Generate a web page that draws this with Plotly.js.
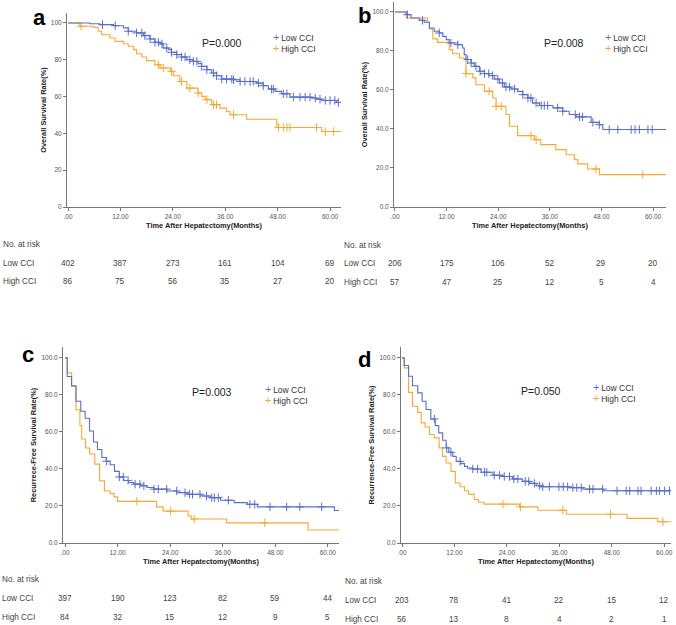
<!DOCTYPE html>
<html>
<head>
<meta charset="utf-8">
<script src="https://cdn.plot.ly/plotly-3.0.1.min.js"></script>
<style>html,body{margin:0;padding:0;background:#fff;}#chart{width:676px;height:625px;}</style>
</head>
<body>
<div id="chart"></div>
<script>
// ---------- shared labels ----------
const groupNames = ['Low CCI', 'High CCI'];
const pValues = ['P=0.000', 'P=0.008', 'P=0.003', 'P=0.050'];
const panelLetters = ['a', 'b', 'c', 'd'];
const yTitles = ['Overall Survival Rate(%)', 'Overall Survival Rate(%)', 'Recurrece-Free Survival Rate(%)', 'Recurrence-Free Survival Rate(%)'];
const xTitle = 'Time After Hepatectomy(Months)';
const riskTitle = 'No. at risk';
const tickMonths = [0, 12, 24, 36, 48, 60];
const xTickText = ['.00', '12.00', '24.00', '36.00', '48.00', '60.00'];
const yTickVals = [0, 20, 40, 60, 80, 100];
const yTickTextA = ['0', '20', '40', '60', '80', '100'];
const yTickTextOther = ['0.0', '20.0', '40.0', '60.0', '80.0', '100.0'];

// ---------- panel a : OS, cohort 1 ----------
const aLowT = [0, 5.0, 7.3, 10.4, 12.7, 13.8, 15.7, 17.3, 18.8, 19.9, 21.1, 21.8, 23.0, 23.7, 24.9, 26.0, 27.2, 28.7, 29.8, 30.6, 31.8, 32.9, 34.0, 35.2, 37.9, 39.4, 43.2, 44.7, 45.9, 47.4, 48.9, 50.8, 55.8, 56.9, 58.1, 61.5, 62.5];
const aLowS = [100, 99.6, 99.1, 98.5, 97.3, 95.5, 94.6, 93.1, 91.3, 89.5, 88.6, 86.4, 85.5, 84.0, 82.8, 81.5, 80.0, 79.1, 77.9, 76.4, 74.6, 72.8, 71.3, 69.5, 69.1, 68.2, 67.3, 65.9, 64.1, 62.8, 61.5, 59.7, 59.2, 58.6, 57.9, 56.8, 56.8];
const aLowCens = [7.9, 10.8, 13.8, 15.7, 16.9, 17.6, 18.8, 19.9, 20.7, 21.5, 22.6, 23.7, 24.9, 26.0, 26.8, 27.9, 28.7, 29.5, 30.6, 31.8, 33.3, 34.0, 35.2, 36.3, 37.5, 37.9, 39.4, 40.5, 41.7, 42.4, 43.6, 44.7, 46.6, 47.0, 49.3, 50.1, 51.6, 53.1, 54.3, 55.4, 56.6, 57.7, 58.9, 60.0, 61.1, 61.9];
const aHighT = [0, 2.7, 5.8, 6.9, 7.7, 9.6, 10.8, 12.7, 13.8, 15.0, 15.7, 16.9, 18.0, 19.9, 21.1, 23.4, 24.1, 25.6, 27.2, 29.8, 30.6, 31.4, 32.9, 34.8, 36.3, 37.1, 40.9, 47.8, 58.1, 62.5];
const aHighS = [100, 98.2, 97.6, 95.5, 93.6, 91.8, 90.0, 88.7, 87.3, 85.5, 83.3, 81.5, 79.5, 77.3, 75.5, 73.7, 71.3, 68.2, 64.6, 61.9, 60.1, 58.3, 55.6, 53.7, 51.9, 50.1, 47.7, 43.2, 41.0, 41.0];
const aHighCens = [3.0, 20.7, 21.8, 23.7, 26.0, 27.9, 29.8, 31.8, 33.3, 34.0, 37.9, 48.2, 49.3, 50.1, 50.8, 56.9, 58.9, 60.8];
const aRiskLow = [402, 387, 273, 161, 104, 69];
const aRiskHigh = [86, 75, 56, 35, 27, 20];

// ---------- panel b : OS, cohort 2 ----------
const bLowT = [0, 2.6, 3.7, 5.7, 6.8, 8.0, 9.1, 10.3, 11.1, 11.9, 12.6, 14.6, 15.7, 16.1, 16.5, 17.7, 18.4, 19.6, 20.8, 21.9, 23.1, 24.3, 25.4, 27.0, 28.5, 29.7, 30.9, 32.0, 33.6, 36.7, 39.0, 40.5, 42.1, 45.6, 47.5, 48.3, 63.0];
const bLowS = [100, 98.6, 96.9, 95.7, 94.7, 91.8, 90.1, 89.2, 87.5, 85.8, 84.1, 83.2, 81.5, 78.1, 75.6, 73.8, 72.1, 69.6, 68.4, 67.4, 65.6, 63.6, 61.5, 60.5, 59.3, 57.6, 55.9, 53.3, 52.0, 50.8, 49.1, 47.4, 46.2, 43.4, 42.2, 39.7, 39.7];
const bLowCens = [2.9, 6.4, 10.3, 13.0, 14.6, 16.9, 17.7, 18.8, 19.8, 20.8, 21.8, 22.7, 23.9, 25.0, 25.8, 26.6, 27.8, 29.7, 30.9, 31.6, 32.8, 34.0, 34.7, 35.5, 37.8, 39.0, 41.9, 42.9, 43.6, 46.0, 47.5, 49.8, 51.8, 54.9, 55.8, 56.8, 58.8, 59.8];
const bHighT = [0, 2.6, 7.6, 8.0, 8.8, 9.9, 12.6, 13.4, 15.0, 16.5, 18.1, 18.8, 20.8, 22.7, 23.5, 25.8, 26.6, 28.5, 32.4, 33.9, 37.4, 39.8, 41.7, 42.5, 44.8, 47.5, 63.0];
const bHighS = [100, 96.9, 94.7, 91.3, 86.2, 84.4, 80.7, 78.6, 76.4, 68.4, 66.2, 62.7, 59.3, 55.9, 51.6, 47.4, 41.4, 36.6, 34.5, 32.0, 29.4, 26.8, 24.3, 22.1, 19.5, 16.6, 16.6];
const bHighCens = [16.5, 21.9, 23.5, 24.7, 31.6, 32.8, 46.7, 57.6];
const bRiskLow = [206, 175, 106, 52, 29, 20];
const bRiskHigh = [57, 47, 25, 12, 5, 4];

// ---------- panel c : RFS, cohort 1 ----------
const cLowT = [0, 0.5, 1.5, 2.5, 3.6, 4.6, 5.6, 6.5, 7.4, 8.4, 9.4, 10.3, 11.3, 12.4, 13.4, 14.5, 15.7, 17.2, 18.7, 20.3, 23.3, 25.6, 27.9, 31.0, 33.2, 35.5, 38.6, 41.6, 43.9, 61.5, 62.6];
const cLowS = [100, 90.0, 85.0, 76.6, 71.2, 67.4, 60.5, 54.6, 50.5, 46.2, 44.2, 42.3, 38.7, 35.7, 33.8, 32.7, 31.8, 30.9, 30.0, 29.1, 28.1, 27.2, 26.3, 25.4, 24.5, 23.1, 21.8, 20.9, 19.5, 17.6, 17.6];
const cLowCens = [9.5, 12.4, 13.3, 14.4, 16.0, 17.1, 18.0, 20.3, 21.3, 23.2, 25.5, 27.4, 28.4, 29.1, 30.8, 32.3, 33.5, 34.1, 35.0, 37.3, 42.2, 43.3, 46.8, 50.6, 53.6, 58.6];
const cHighT = [0, 0.5, 1.5, 2.5, 3.4, 3.8, 4.7, 5.6, 6.8, 7.9, 9.0, 10.3, 11.2, 12.0, 20.9, 22.4, 28.1, 28.9, 36.9, 55.5, 62.6];
const cHighS = [100, 91.9, 84.6, 72.0, 63.4, 56.2, 51.3, 48.1, 42.6, 33.6, 28.1, 26.7, 24.9, 22.5, 19.5, 17.2, 14.6, 13.0, 10.9, 7.0, 7.0];
const cHighCens = [16.4, 24.1, 29.5, 45.6];
const cRiskLow = [397, 190, 123, 82, 59, 44];
const cRiskHigh = [84, 32, 15, 12, 9, 5];

// ---------- panel d : RFS, cohort 2 ----------
const dLowT = [0, 0.5, 1.5, 2.4, 3.6, 4.6, 5.5, 6.6, 7.6, 8.4, 9.3, 10.1, 10.7, 11.6, 12.4, 13.5, 14.3, 15.0, 16.2, 18.1, 20.8, 23.1, 25.3, 27.6, 29.2, 30.7, 31.8, 38.3, 41.4, 46.0, 61.6];
const dLowS = [100, 95.9, 90.1, 85.0, 81.1, 76.6, 72.1, 67.0, 63.4, 59.5, 55.5, 51.4, 49.0, 46.8, 44.1, 42.9, 41.4, 40.5, 40.0, 38.2, 36.6, 35.9, 34.6, 33.3, 32.2, 31.0, 30.4, 29.9, 29.1, 28.2, 28.2];
const dLowCens = [7.4, 10.2, 11.2, 13.3, 16.2, 17.3, 18.9, 19.4, 21.1, 22.3, 23.4, 24.6, 25.6, 26.5, 28.2, 29.0, 30.3, 31.5, 32.2, 33.7, 35.9, 36.9, 37.9, 39.1, 40.0, 41.0, 42.9, 43.7, 45.9, 49.2, 51.3, 52.1, 54.0, 54.7, 57.0, 58.2, 58.9, 60.1, 61.2];
const dHighT = [0, 0.5, 1.5, 2.4, 3.6, 4.4, 5.3, 6.3, 7.4, 8.5, 9.3, 10.1, 11.2, 12.2, 13.3, 14.3, 15.2, 16.5, 17.5, 18.8, 26.9, 31.1, 37.6, 51.5, 58.5, 61.6];
const dHighS = [100, 94.6, 81.4, 73.9, 70.6, 64.9, 62.7, 58.6, 56.8, 51.4, 46.8, 43.2, 38.7, 32.4, 30.4, 28.2, 26.4, 23.5, 22.0, 21.0, 19.5, 17.7, 15.5, 13.3, 11.5, 11.5];
const dHighCens = [23.1, 27.1, 36.8, 47.7, 59.7];
const dRiskLow = [203, 78, 41, 22, 15, 12];
const dRiskHigh = [56, 13, 8, 4, 2, 1];

// ---------- styling / layout geometry ----------
const BLUE = '#5a6fc8';
const ORANGE = '#f6a833';
const FONT = 'Liberation Sans, Arial, sans-serif';
const W = 676, H = 625;
const px = v => v / W;
const py = v => 1 - v / H;

const panels = [
  {low: [aLowT, aLowS, aLowCens], high: [aHighT, aHighS, aHighCens], risk: [aRiskLow, aRiskHigh], yText: yTickTextA,
   dom: [67, 341, 13, 207], xr: [-0.23, 62.5], yr: [0, 105.4], letterPos: [39, 17], pPos: [222, 43],
   legX: 272, legY: 43, riskX: 2, riskY: [244, 263, 281]},
  {low: [bLowT, bLowS, bLowCens], high: [bHighT, bHighS, bHighCens], risk: [bRiskLow, bRiskHigh], yText: yTickTextOther,
   dom: [394, 666, 2, 207], xr: [-0.23, 63.0], yr: [0, 105.1], letterPos: [364, 15], pPos: [564, 43],
   legX: 604, legY: 42.5, riskX: 343, riskY: [245, 263, 282]},
  {low: [cLowT, cLowS, cLowCens], high: [cHighT, cHighS, cHighCens], risk: [cRiskLow, cRiskHigh], yText: yTickTextOther,
   dom: [63, 339, 347, 543], xr: [-0.46, 62.55], yr: [0, 105.9], letterPos: [28, 355], pPos: [212, 392],
   legX: 264, legY: 394, riskX: 1, riskY: [579, 598, 617]},
  {low: [dLowT, dLowS, dLowCens], high: [dHighT, dHighS, dHighCens], risk: [dRiskLow, dRiskHigh], yText: yTickTextOther,
   dom: [401, 671, 347, 543], xr: [-0.23, 61.55], yr: [0, 105.9], letterPos: [364, 359], pPos: [541, 391],
   legX: 592, legY: 392, riskX: 344, riskY: [581, 600, 619]}
];

function stepAt(T, S, t) {
  let v = S[0];
  for (let i = 0; i < T.length; i++) { if (T[i] <= t) v = S[i]; }
  return v;
}

const traces = [];
const annotations = [];
const layout = {
  width: W, height: H, margin: {l: 0, r: 0, t: 0, b: 0},
  paper_bgcolor: '#fff', plot_bgcolor: '#fff', showlegend: false,
  font: {family: FONT, color: '#333'}
};

function note(text, xref, x, y, anchor, font, align) {
  annotations.push({text: text, xref: xref, yref: 'paper', x: x, y: y, xanchor: anchor, yanchor: 'middle',
    align: align || 'center', showarrow: false, borderpad: 0, font: font});
}

panels.forEach((p, i) => {
  const n = i === 0 ? '' : String(i + 1);
  const xa = 'x' + n, ya = 'y' + n;
  [[p.high, ORANGE], [p.low, BLUE]].forEach(([g, col]) => {
    const [T, S, C] = g;
    traces.push({x: T, y: S, xaxis: xa, yaxis: ya, type: 'scatter', mode: 'lines',
      line: {shape: 'hv', color: col, width: 1.1}, hoverinfo: 'skip'});
    traces.push({x: C, y: C.map(t => stepAt(T, S, t)), xaxis: xa, yaxis: ya, type: 'scatter', mode: 'markers',
      marker: {symbol: 'cross-thin', size: 6, color: col, line: {color: col, width: 1}}, hoverinfo: 'skip'});
  });

  layout['xaxis' + n] = {
    domain: [px(p.dom[0]), px(p.dom[1])], range: p.xr, anchor: ya,
    showline: true, linecolor: '#777', linewidth: 1, showgrid: false, zeroline: false,
    ticks: 'outside', ticklen: 3, tickcolor: '#777', tickvals: tickMonths, ticktext: xTickText,
    tickfont: {size: 6.5, color: '#555', family: FONT},
    title: {text: xTitle, font: {size: 7.4, color: '#222', family: FONT, weight: 'bold'}, standoff: 4}
  };
  layout['yaxis' + n] = {
    domain: [py(p.dom[3]), py(p.dom[2])], range: p.yr, anchor: xa,
    showline: true, linecolor: '#777', linewidth: 1, showgrid: false, zeroline: false,
    ticks: 'outside', ticklen: 3, tickcolor: '#777', tickvals: yTickVals, ticktext: p.yText,
    tickfont: {size: 6.5, color: '#555', family: FONT},
    title: {text: yTitles[i], font: {size: 7.4, color: '#222', family: FONT, weight: 'bold'}, standoff: 3}
  };

  note(panelLetters[i], 'paper', px(p.letterPos[0]), py(p.letterPos[1]), 'center',
    {size: 22, family: FONT, color: '#000', weight: 'bold'});
  note(pValues[i], 'paper', px(p.pPos[0]), py(p.pPos[1]), 'center', {size: 10.5, family: FONT, color: '#222'});
  const legText = '<span style="color:' + BLUE + ';font-size:11px">+</span>\u2009' + groupNames[0] + '<br>' +
                  '<span style="color:' + ORANGE + ';font-size:11px">+</span>\u2009' + groupNames[1];
  note(legText, 'paper', px(p.legX), py(p.legY), 'left', {size: 8.5, family: FONT, color: '#333'}, 'left');
  const riskFont = {size: 8.2, family: FONT, color: '#444'};
  note(riskTitle, 'paper', px(p.riskX), py(p.riskY[0]), 'left', riskFont);
  [0, 1].forEach(k => {
    note(groupNames[k], 'paper', px(p.riskX), py(p.riskY[k + 1]), 'left', riskFont);
    p.risk[k].forEach((v, j) => {
      note(String(v), xa, tickMonths[j], py(p.riskY[k + 1]), 'center', riskFont);
    });
  });
});
layout.annotations = annotations;

Plotly.newPlot('chart', traces, layout, {staticPlot: true, displayModeBar: false});
</script>
</body>
</html>
